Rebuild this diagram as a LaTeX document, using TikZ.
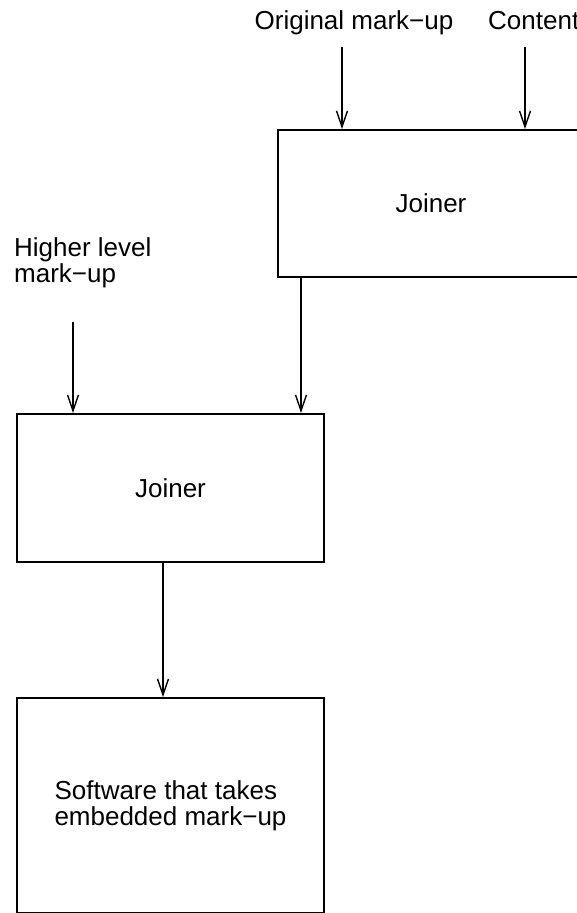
\documentclass[tikz,border=0pt]{standalone}
\usepackage{fontspec}
\setmainfont{Liberation Sans}
\usetikzlibrary{arrows.meta}
\begin{document}
\begin{tikzpicture}[x=1pt,y=-1pt,
  txt/.style={inner sep=0pt, font=\fontsize{26}{26}\selectfont},
  box/.style={draw, line width=2pt, inner sep=0pt, anchor=north west, txt},
  arr/.style={line width=1.4pt, -{Straight Barb[length=16pt,width=11pt,line width=1.4pt]}}]
\useasboundingbox (0,0) rectangle (577,913);
% boxes
\node[box, minimum width=306pt, minimum height=147pt] (J1) at (277,129) {Joiner};
\node[box, minimum width=307pt, minimum height=148pt] (J2) at (16,413) {Joiner};
\node[box, minimum width=307pt, minimum height=215pt, align=left] (S) at (16,697) {Software that takes\\embedded mark−up};
% labels
\node[txt, anchor=base] (L1) at (354,29) {Original mark−up};
\node[txt, anchor=base west] (L2) at (488,29) {Content};
\node[txt, anchor=north west, align=left] (L3) at (14,237) {Higher level\\mark−up};
% connector anchors
\coordinate (a1) at (342,47);
\coordinate (a2) at (525,47);
\coordinate (a3) at (73,322);
\coordinate (a4) at (301,276);
\coordinate (a5) at (163,561);
% connectors
\draw[arr] (a1) -- (a1 |- J1.north);
\draw[arr] (a2) -- (a2 |- J1.north);
\draw[arr] (a3) -- (a3 |- J2.north);
\draw[arr] (a4 |- J1.south) -- (a4 |- J2.north);
\draw[arr] (a5 |- J2.south) -- (a5 |- S.north);
\end{tikzpicture}
\end{document}
